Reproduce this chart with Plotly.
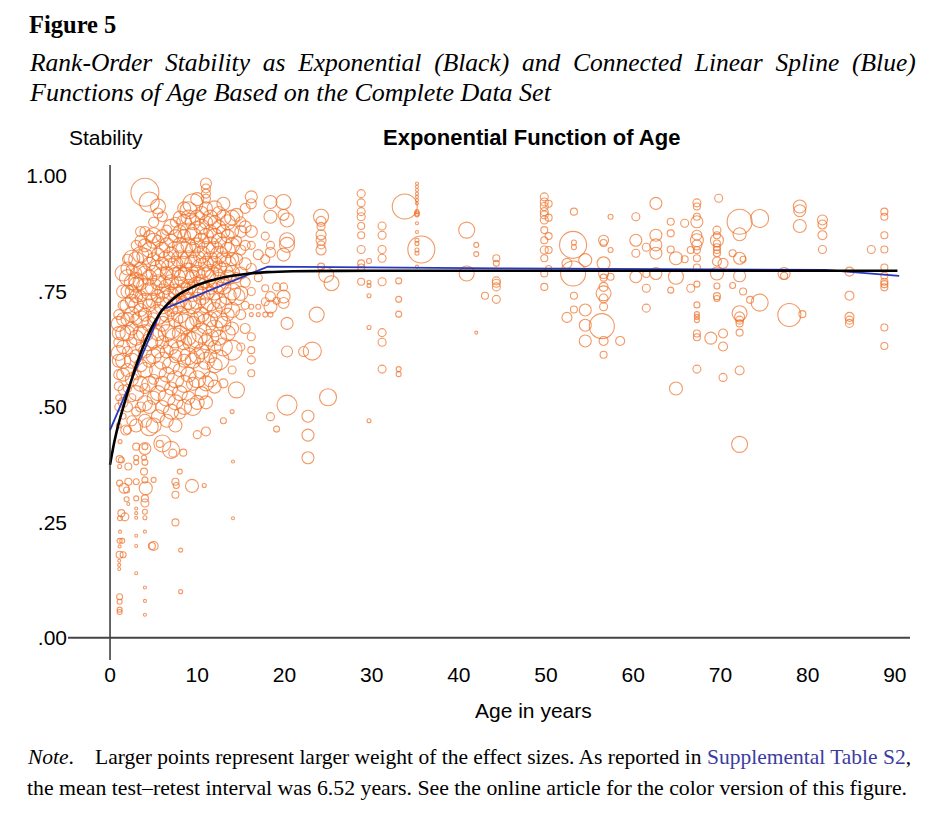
import plotly.graph_objects as go

# ---------------- data ----------------
# Dense child/adolescent cluster: one entry per age column
young_age = [1.0, 1.5, 2.0, 2.5, 3.0, 3.5, 4.0, 4.5, 5.0, 5.5, 6.0, 6.5, 7.0, 7.5, 8.0,
             8.5, 9.0, 9.5, 10.0, 10.5, 11.0, 11.5, 12.0, 12.5, 13.0, 13.5, 14.0, 14.5,
             15.0, 15.5, 16.2, 17.0, 17.8, 18.4, 19.1, 19.9, 20.3]
young_stab = [
    [0.46, 0.50, 0.52, 0.545, 0.57, 0.60, 0.617, 0.64, 0.66, 0.68, 0.70],
    [0.48, 0.51, 0.537, 0.57, 0.60, 0.63, 0.66, 0.69, 0.72, 0.75, 0.79],
    [0.45, 0.50, 0.54, 0.58, 0.62, 0.66, 0.69, 0.72, 0.75, 0.78, 0.80, 0.82],
    [0.47, 0.52, 0.56, 0.60, 0.64, 0.67, 0.70, 0.73, 0.75, 0.77, 0.797, 0.822],
    [0.46, 0.49, 0.53, 0.57, 0.61, 0.65, 0.69, 0.72, 0.74, 0.765, 0.775, 0.79, 0.82, 0.85],
    [0.50, 0.55, 0.59, 0.63, 0.66, 0.69, 0.71, 0.74, 0.77, 0.80, 0.83, 0.86, 0.88],
    [0.47, 0.508, 0.54, 0.58, 0.62, 0.66, 0.70, 0.73, 0.76, 0.79, 0.826, 0.85, 0.88, 0.965],
    [0.457, 0.50, 0.55, 0.60, 0.64, 0.68, 0.72, 0.75, 0.78, 0.81, 0.84, 0.87, 0.944],
    [0.46, 0.52, 0.56, 0.61, 0.65, 0.69, 0.73, 0.76, 0.79, 0.82, 0.86, 0.872, 0.90],
    [0.48, 0.53, 0.58, 0.62, 0.66, 0.70, 0.74, 0.77, 0.80, 0.83, 0.86, 0.934, 0.92],
    [0.421, 0.50, 0.55, 0.60, 0.64, 0.68, 0.72, 0.75, 0.78, 0.81, 0.84, 0.87, 0.912],
    [0.47, 0.52, 0.57, 0.62, 0.66, 0.70, 0.73, 0.76, 0.79, 0.82, 0.85, 0.883],
    [0.407, 0.49, 0.54, 0.59, 0.63, 0.67, 0.71, 0.74, 0.77, 0.80, 0.83, 0.86, 0.89],
    [0.46, 0.51, 0.56, 0.61, 0.65, 0.69, 0.72, 0.75, 0.78, 0.81, 0.84, 0.87, 0.90],
    [0.486, 0.53, 0.58, 0.62, 0.66, 0.70, 0.73, 0.76, 0.79, 0.82, 0.85, 0.88, 0.91],
    [0.50, 0.55, 0.60, 0.64, 0.68, 0.72, 0.75, 0.78, 0.81, 0.84, 0.87, 0.90, 0.93],
    [0.52, 0.57, 0.61, 0.65, 0.69, 0.73, 0.76, 0.79, 0.82, 0.85, 0.88, 0.91, 0.926],
    [0.50, 0.55, 0.60, 0.64, 0.68, 0.72, 0.75, 0.78, 0.81, 0.84, 0.87, 0.90, 0.94],
    [0.44, 0.51, 0.56, 0.61, 0.65, 0.69, 0.73, 0.76, 0.79, 0.82, 0.85, 0.88, 0.91, 0.95],
    [0.53, 0.58, 0.62, 0.66, 0.70, 0.74, 0.77, 0.80, 0.83, 0.86, 0.89, 0.92],
    [0.447, 0.51, 0.551, 0.60, 0.64, 0.68, 0.72, 0.75, 0.78, 0.81, 0.84, 0.87, 0.90, 0.93,
     0.951, 0.962, 0.973, 0.984],
    [0.56, 0.61, 0.65, 0.69, 0.73, 0.76, 0.79, 0.82, 0.85, 0.88, 0.91],
    [0.544, 0.59, 0.63, 0.67, 0.71, 0.75, 0.78, 0.81, 0.84, 0.87, 0.90, 0.93],
    [0.602, 0.65, 0.69, 0.73, 0.77, 0.80, 0.83, 0.86, 0.89, 0.92],
    [0.47, 0.551, 0.63, 0.68, 0.72, 0.76, 0.79, 0.82, 0.85, 0.88, 0.91, 0.94],
    [0.66, 0.70, 0.74, 0.78, 0.81, 0.84, 0.87, 0.90],
    [0.49, 0.58, 0.623, 0.67, 0.71, 0.75, 0.79, 0.82, 0.85, 0.88, 0.91],
    [0.537, 0.739, 0.78, 0.82, 0.86, 0.916],
    [0.63, 0.70, 0.746, 0.79, 0.84, 0.88, 0.901],
    [0.67, 0.72, 0.77, 0.81, 0.85, 0.89, 0.93],
    [0.573, 0.602, 0.623, 0.652, 0.70, 0.717, 0.75, 0.80, 0.85, 0.88, 0.94, 0.955],
    [0.70, 0.717, 0.78, 0.83],
    [0.70, 0.728, 0.757, 0.82, 0.87],
    [0.479, 0.70, 0.717, 0.739, 0.835, 0.85, 0.912, 0.944],
    [0.452, 0.73, 0.76],
    [0.725, 0.739, 0.76, 0.83, 0.916, 0.944],
    [0.504, 0.62, 0.681, 0.851, 0.861, 0.905],
]
young_weight = [
    [5, 8, 6, 9, 10, 13, 15, 10, 13, 15, 10],
    [6, 10, 10, 13, 15, 13, 15, 13, 10, 13, 16],
    [8, 10, 8, 13, 10, 15, 13, 15, 13, 16, 13, 10],
    [10, 8, 13, 15, 10, 13, 15, 13, 13, 15, 11, 16],
    [13, 9, 15, 10, 13, 15, 11, 15, 13, 15, 15, 11, 15, 10],
    [10, 15, 13, 10, 15, 17, 13, 11, 15, 13, 16, 11, 10],
    [13, 15, 10, 15, 13, 17, 13, 15, 17, 14, 16, 13, 10, 28],
    [18, 13, 15, 13, 17, 15, 13, 17, 15, 13, 15, 11, 20],
    [15, 13, 10, 15, 20, 13, 15, 17, 15, 13, 15, 15, 10],
    [13, 15, 17, 13, 15, 20, 13, 15, 17, 13, 11, 15, 10],
    [17, 13, 15, 17, 13, 15, 17, 15, 20, 13, 15, 13, 10],
    [13, 17, 15, 13, 17, 15, 20, 15, 13, 17, 15, 10],
    [17, 15, 13, 17, 15, 20, 13, 17, 15, 20, 15, 13, 15],
    [13, 15, 17, 13, 20, 15, 17, 15, 20, 15, 17, 13, 10],
    [11, 15, 13, 20, 15, 17, 15, 20, 15, 17, 15, 13, 13],
    [15, 17, 13, 15, 20, 15, 17, 20, 15, 17, 13, 15, 13],
    [13, 15, 17, 15, 20, 17, 15, 20, 17, 15, 17, 15, 17],
    [17, 13, 15, 20, 15, 17, 20, 15, 17, 15, 17, 15, 20],
    [8, 14, 17, 15, 20, 15, 17, 20, 15, 17, 15, 20, 15, 13],
    [13, 17, 15, 20, 15, 17, 15, 20, 17, 15, 15, 13],
    [9, 13, 15, 17, 15, 20, 15, 17, 20, 15, 17, 15, 13, 13, 9, 9, 9, 11],
    [15, 13, 17, 15, 20, 15, 17, 15, 17, 13, 15],
    [13, 15, 13, 17, 15, 17, 20, 15, 17, 15, 13, 15],
    [20, 15, 17, 15, 20, 15, 17, 15, 13, 13],
    [6, 9, 18, 15, 17, 15, 20, 15, 17, 13, 15, 13],
    [15, 13, 17, 15, 17, 15, 13, 15],
    [4, 8, 20, 13, 15, 17, 15, 13, 15, 13, 15],
    [16, 17, 10, 12, 10, 13],
    [8, 10, 14, 12, 10, 12, 10],
    [10, 8, 10, 12, 10, 12, 10],
    [7, 8, 7, 8, 4, 5, 8, 10, 8, 12, 10, 12],
    [4, 5, 8, 10],
    [5, 8, 7, 9, 8],
    [8, 5, 13, 10, 10, 8, 13, 13],
    [6, 7, 8],
    [11, 13, 8, 13, 11, 15],
    [20, 11, 12, 15, 15, 14],
]

# Low-stability tail of the young studies
low_age = [1.05, 1.1, 1.15, 1.3, 1.4, 1.5, 1.6, 1.7, 1.8, 1.9, 2.1, 3.0, 3.9, 4.0, 4.1,
           4.8, 5.0, 5.7, 7.2, 7.5, 7.6, 8.0, 8.1, 8.4, 9.4, 10.8, 14.1]
low_stab = [
    [0.167, 0.158, 0.149],
    [0.387, 0.371, 0.335, 0.21, 0.198, 0.18, 0.089, 0.078, 0.061, 0.056],
    [0.425, 0.259, 0.23],
    [0.385, 0.27],
    [0.21],
    [0.18],
    [0.324],
    [0.262],
    [0.45],
    [0.32, 0.30],
    [0.371, 0.338, 0.29],
    [0.414, 0.39, 0.38, 0.338, 0.302, 0.28, 0.27, 0.26, 0.221, 0.199, 0.14],
    [0.39, 0.36],
    [0.41, 0.414, 0.38, 0.342, 0.302, 0.292, 0.273, 0.26, 0.23, 0.109, 0.08, 0.05],
    [0.324],
    [0.199],
    [0.199, 0.342],
    [0.42],
    [0.40],
    [0.338, 0.31, 0.25],
    [0.33],
    [0.36],
    [0.19, 0.10],
    [0.401],
    [0.329],
    [0.33],
    [0.382, 0.259],
]
low_weight = [
    [3, 3, 3],
    [7, 4, 6, 5, 3, 7, 6, 5, 5, 5],
    [4, 5, 3],
    [6, 7],
    [5],
    [6],
    [10],
    [8],
    [10],
    [6, 5],
    [7, 7, 3],
    [7, 5, 5, 6, 5, 3, 3, 3, 3, 3, 3],
    [5, 7],
    [12, 6, 6, 6, 7, 8, 5, 4, 3, 3, 3, 3],
    [13],
    [7],
    [9, 5],
    [7],
    [8],
    [7, 7, 7],
    [6],
    [5],
    [4, 4],
    [7],
    [13],
    [4],
    [3, 3],
]

# Adult studies
adult_age = [22.2, 22.7, 23.2, 23.7, 24.2, 24.8, 25.0, 25.4, 28.8, 29.7, 31.2, 33.1, 33.8,
             35.2, 35.7, 40.9, 42.0, 43.0, 44.3, 49.8, 50.3, 52.4, 53.1, 53.2, 54.5, 56.4,
             56.6, 57.4, 58.5, 60.3, 61.5, 62.6, 64.3, 64.9, 65.9, 66.6, 67.3, 68.9, 69.6,
             69.8, 70.3, 71.4, 72.2, 72.6, 73.4, 74.5, 77.3, 77.9, 79.1, 79.4, 81.7, 84.8,
             87.3, 88.8]
adult_stab = [
    [0.62],
    [0.48, 0.439, 0.39],
    [0.621],
    [0.70],
    [0.912, 0.902, 0.891, 0.873, 0.861, 0.851, 0.840, 0.804],
    [0.786],
    [0.521],
    [0.768],
    [0.962, 0.942, 0.923, 0.912, 0.892, 0.872, 0.841, 0.811, 0.802, 0.771],
    [0.816, 0.77, 0.763, 0.741, 0.672, 0.470],
    [0.892, 0.872, 0.841, 0.822, 0.771, 0.661, 0.640, 0.582],
    [0.773, 0.733, 0.701, 0.582, 0.571],
    [0.934],
    [0.984, 0.977, 0.970, 0.962, 0.955, 0.948, 0.941, 0.923, 0.919, 0.916, 0.898, 0.879,
     0.861, 0.854, 0.84, 0.833, 0.804],
    [0.841],
    [0.883, 0.789],
    [0.851, 0.831, 0.661],
    [0.741],
    [0.822, 0.811, 0.773, 0.768, 0.760, 0.733],
    [0.955, 0.944, 0.934, 0.923, 0.916, 0.905, 0.883, 0.861, 0.840, 0.822, 0.789, 0.760],
    [0.94, 0.91, 0.87, 0.84, 0.80],
    [0.811, 0.694],
    [0.851, 0.789],
    [0.923, 0.856, 0.846, 0.741, 0.711],
    [0.818, 0.71, 0.677, 0.643],
    [0.675],
    [0.861, 0.855, 0.811, 0.789, 0.78, 0.760, 0.746, 0.735, 0.717, 0.643, 0.613],
    [0.912, 0.84, 0.782],
    [0.643],
    [0.912, 0.861, 0.833, 0.782],
    [0.846, 0.788, 0.757, 0.714],
    [0.941, 0.872, 0.851, 0.833, 0.789],
    [0.901, 0.876, 0.841, 0.753],
    [0.822, 0.782, 0.540],
    [0.898, 0.82],
    [0.840, 0.757],
    [0.942, 0.934, 0.912, 0.901, 0.872, 0.861, 0.851, 0.84, 0.822, 0.802, 0.766, 0.721,
     0.701, 0.695, 0.688, 0.659, 0.651, 0.582],
    [0.649],
    [0.883, 0.872, 0.861, 0.854, 0.846, 0.84, 0.833, 0.815, 0.789, 0.762, 0.74, 0.735],
    [0.952],
    [0.811, 0.659, 0.631, 0.564],
    [0.833, 0.763],
    [0.901, 0.874, 0.822, 0.784, 0.703, 0.695, 0.688, 0.681, 0.661, 0.579, 0.419],
    [0.82, 0.75],
    [0.732],
    [0.908, 0.726],
    [0.789, 0.784],
    [0.699],
    [0.934, 0.925, 0.892],
    [0.701],
    [0.905, 0.895, 0.872, 0.841],
    [0.793, 0.741, 0.695, 0.688, 0.681],
    [0.841],
    [0.923, 0.912, 0.872, 0.841, 0.802, 0.784, 0.771, 0.766, 0.759, 0.672, 0.632],
]
adult_weight = [
    [10],
    [12, 12, 12],
    [18],
    [15],
    [15, 10, 8, 10, 10, 8, 10, 7],
    [15],
    [17],
    [15],
    [8, 8, 8, 8, 7, 7, 8, 7, 7, 7],
    [5, 4, 4, 4, 4, 4],
    [8, 8, 8, 8, 8, 8, 8, 8],
    [6, 6, 6, 5, 5],
    [25],
    [3, 3, 3, 3, 3, 3, 3, 4, 5, 4, 3, 3, 4, 4, 4, 4, 3],
    [27],
    [16, 15],
    [5, 5, 3],
    [7],
    [7, 6, 8, 8, 8, 8],
    [8, 8, 8, 8, 8, 8, 7, 7, 8, 7, 7, 7],
    [7, 7, 7, 7, 6],
    [10, 10],
    [27, 25],
    [7, 5, 5, 7, 7],
    [13, 12, 12, 12],
    [25],
    [10, 7, 13, 10, 7, 9, 15, 9, 8, 9, 7],
    [5, 5, 7],
    [9],
    [8, 12, 8, 12],
    [8, 7, 8, 8],
    [12, 12, 12, 12, 12],
    [7, 7, 7, 6],
    [13, 15, 13],
    [8, 7],
    [7, 8],
    [8, 7, 7, 12, 10, 13, 10, 7, 7, 7, 6, 6, 5, 5, 5, 7, 7, 8],
    [12],
    [8, 7, 13, 7, 7, 7, 7, 9, 13, 6, 7, 6],
    [8],
    [10, 9, 9, 8],
    [7, 6],
    [25, 13, 12, 12, 15, 10, 8, 7, 7, 9, 16],
    [6, 7],
    [7],
    [18, 17],
    [12, 7],
    [23],
    [13, 12, 13],
    [7],
    [10, 9, 9, 8],
    [9, 9, 9, 8, 8],
    [8],
    [7, 7, 7, 7, 7, 7, 7, 7, 7, 7, 7],
]

# Fitted exponential function (black)
exp_age = [0, 0.5, 1, 2, 3, 4, 5, 6, 7, 8, 9, 10, 12, 14, 16, 18, 21, 30, 90.3]
exp_stab = [0.375, 0.425, 0.465, 0.53, 0.59, 0.64, 0.68, 0.71, 0.73, 0.745, 0.755, 0.764,
            0.776, 0.784, 0.789, 0.792, 0.794, 0.795, 0.795]

# Connected linear spline (blue)
spline_age = [0, 5.9, 18.1, 45, 82, 90.5]
spline_stab = [0.45, 0.71, 0.804, 0.800, 0.797, 0.784]

x_ticks = [0, 10, 20, 30, 40, 50, 60, 70, 80, 90]
y_ticks = [0, 0.25, 0.5, 0.75, 1.0]
y_tick_text = [".00", ".25", ".50", ".75", "1.00"]

# ---------------- figure ----------------
W, H = 926, 813
OFF = 8  # page body margin of the viewer
PLOT_L, PLOT_R, PLOT_T, PLOT_B = 68, 910, 165, 660   # target on-screen plot box
ML, MT = PLOT_L - OFF, PLOT_T - OFF
MR, MB = W - (PLOT_R - OFF), H - (PLOT_B - OFF)
PW, PH = PLOT_R - PLOT_L, PLOT_B - PLOT_T
X_RANGE = [-4.82, 91.74]
Y_RANGE = [-0.048, 1.024]
SIZE_SCALE = 1.0
ORANGE = "rgb(238,110,36)"
SANS = "Liberation Sans, Arial, sans-serif"
SERIF = "Liberation Serif, Times New Roman, serif"


def px(x):
    return (x - PLOT_L) / PW


def py(y):
    return (PLOT_B - y) / PH


xs, ys, ws = [], [], []
for ages, stabs, weights in ((young_age, young_stab, young_weight),
                             (low_age, low_stab, low_weight),
                             (adult_age, adult_stab, adult_weight)):
    for a, col_s, col_w in zip(ages, stabs, weights):
        for s, w in zip(col_s, col_w):
            xs.append(a)
            ys.append(s)
            ws.append(w * SIZE_SCALE)

fig = go.Figure()
fig.add_trace(go.Scatter(
    x=xs, y=ys, mode="markers",
    marker=dict(symbol="circle-open", size=ws, color=ORANGE,
                line=dict(width=1.1, color=ORANGE)),
    hoverinfo="skip"))
fig.add_trace(go.Scatter(x=spline_age, y=spline_stab, mode="lines",
                         line=dict(color="rgb(40,56,190)", width=1.8)))
fig.add_trace(go.Scatter(x=exp_age, y=exp_stab, mode="lines",
                         line=dict(color="black", width=2.6, shape="spline", smoothing=0.6)))

fig.add_shape(type="line", xref="x", yref="y", x0=0, x1=0, y0=Y_RANGE[0], y1=Y_RANGE[1],
              line=dict(color="#333333", width=1.5))
fig.add_shape(type="line", xref="x", yref="y", x0=X_RANGE[0], x1=X_RANGE[1], y0=0, y1=0,
              line=dict(color="#444444", width=2))

ann = []
ann.append(dict(text="Stability", x=px(106), y=py(137), font=dict(family=SANS, size=21)))
ann.append(dict(text="<b>Exponential Function of Age</b>", x=px(531), y=py(137),
                font=dict(family=SANS, size=22)))
ann.append(dict(text="Age in years", x=px(533), y=py(710), font=dict(family=SANS, size=21)))
ann.append(dict(text="<b>Figure 5</b>", x=px(27), y=py(OFF + 1), xanchor="left",
                yanchor="top", font=dict(family=SERIF, size=24.5)))
ann.append(dict(text="<i>Rank-Order  Stability  as  Exponential  (Black)  and  Connected  "
                     "Linear  Spline  (Blue)</i>", x=px(27), y=py(62), xanchor="left",
                font=dict(family=SERIF, size=25.5)))
ann.append(dict(text="<i>Functions of Age Based on the Complete Data Set</i>", x=px(27),
                y=py(93), xanchor="left", font=dict(family=SERIF, size=26)))
ann.append(dict(text="<i>Note</i>.", x=px(25), y=py(757), xanchor="left",
                font=dict(family=SERIF, size=21.5)))
ann.append(dict(text="Larger points represent larger weight of the effect sizes. As reported in "
                     "<span style='color:#3c3ca0'>Supplemental Table S2</span>,",
                x=px(93), y=py(757), xanchor="left", font=dict(family=SERIF, size=21.5)))
ann.append(dict(text="the mean test\u2013retest interval was 6.52 years. See the online article "
                     "for the color version of this figure.",
                x=px(25), y=py(788), xanchor="left", font=dict(family=SERIF, size=21.8)))
for a in ann:
    a.setdefault("xanchor", "center")
    a.setdefault("yanchor", "middle")
    a.update(xref="paper", yref="paper", showarrow=False)
    a["font"].setdefault("color", "black")

fig.update_layout(
    width=W, height=H, margin=dict(l=ML, r=MR, t=MT, b=MB),
    paper_bgcolor="white", plot_bgcolor="white", showlegend=False,
    annotations=ann,
    xaxis=dict(range=X_RANGE, tickvals=x_ticks, showgrid=False, zeroline=False,
               showline=False, ticks="", tickfont=dict(family=SANS, size=21, color="black")),
    yaxis=dict(range=Y_RANGE, tickvals=y_ticks, ticktext=y_tick_text, showgrid=False,
               zeroline=False, showline=False, ticks="",
               tickfont=dict(family=SANS, size=21, color="black")),
)
fig.write_html("out.html")
